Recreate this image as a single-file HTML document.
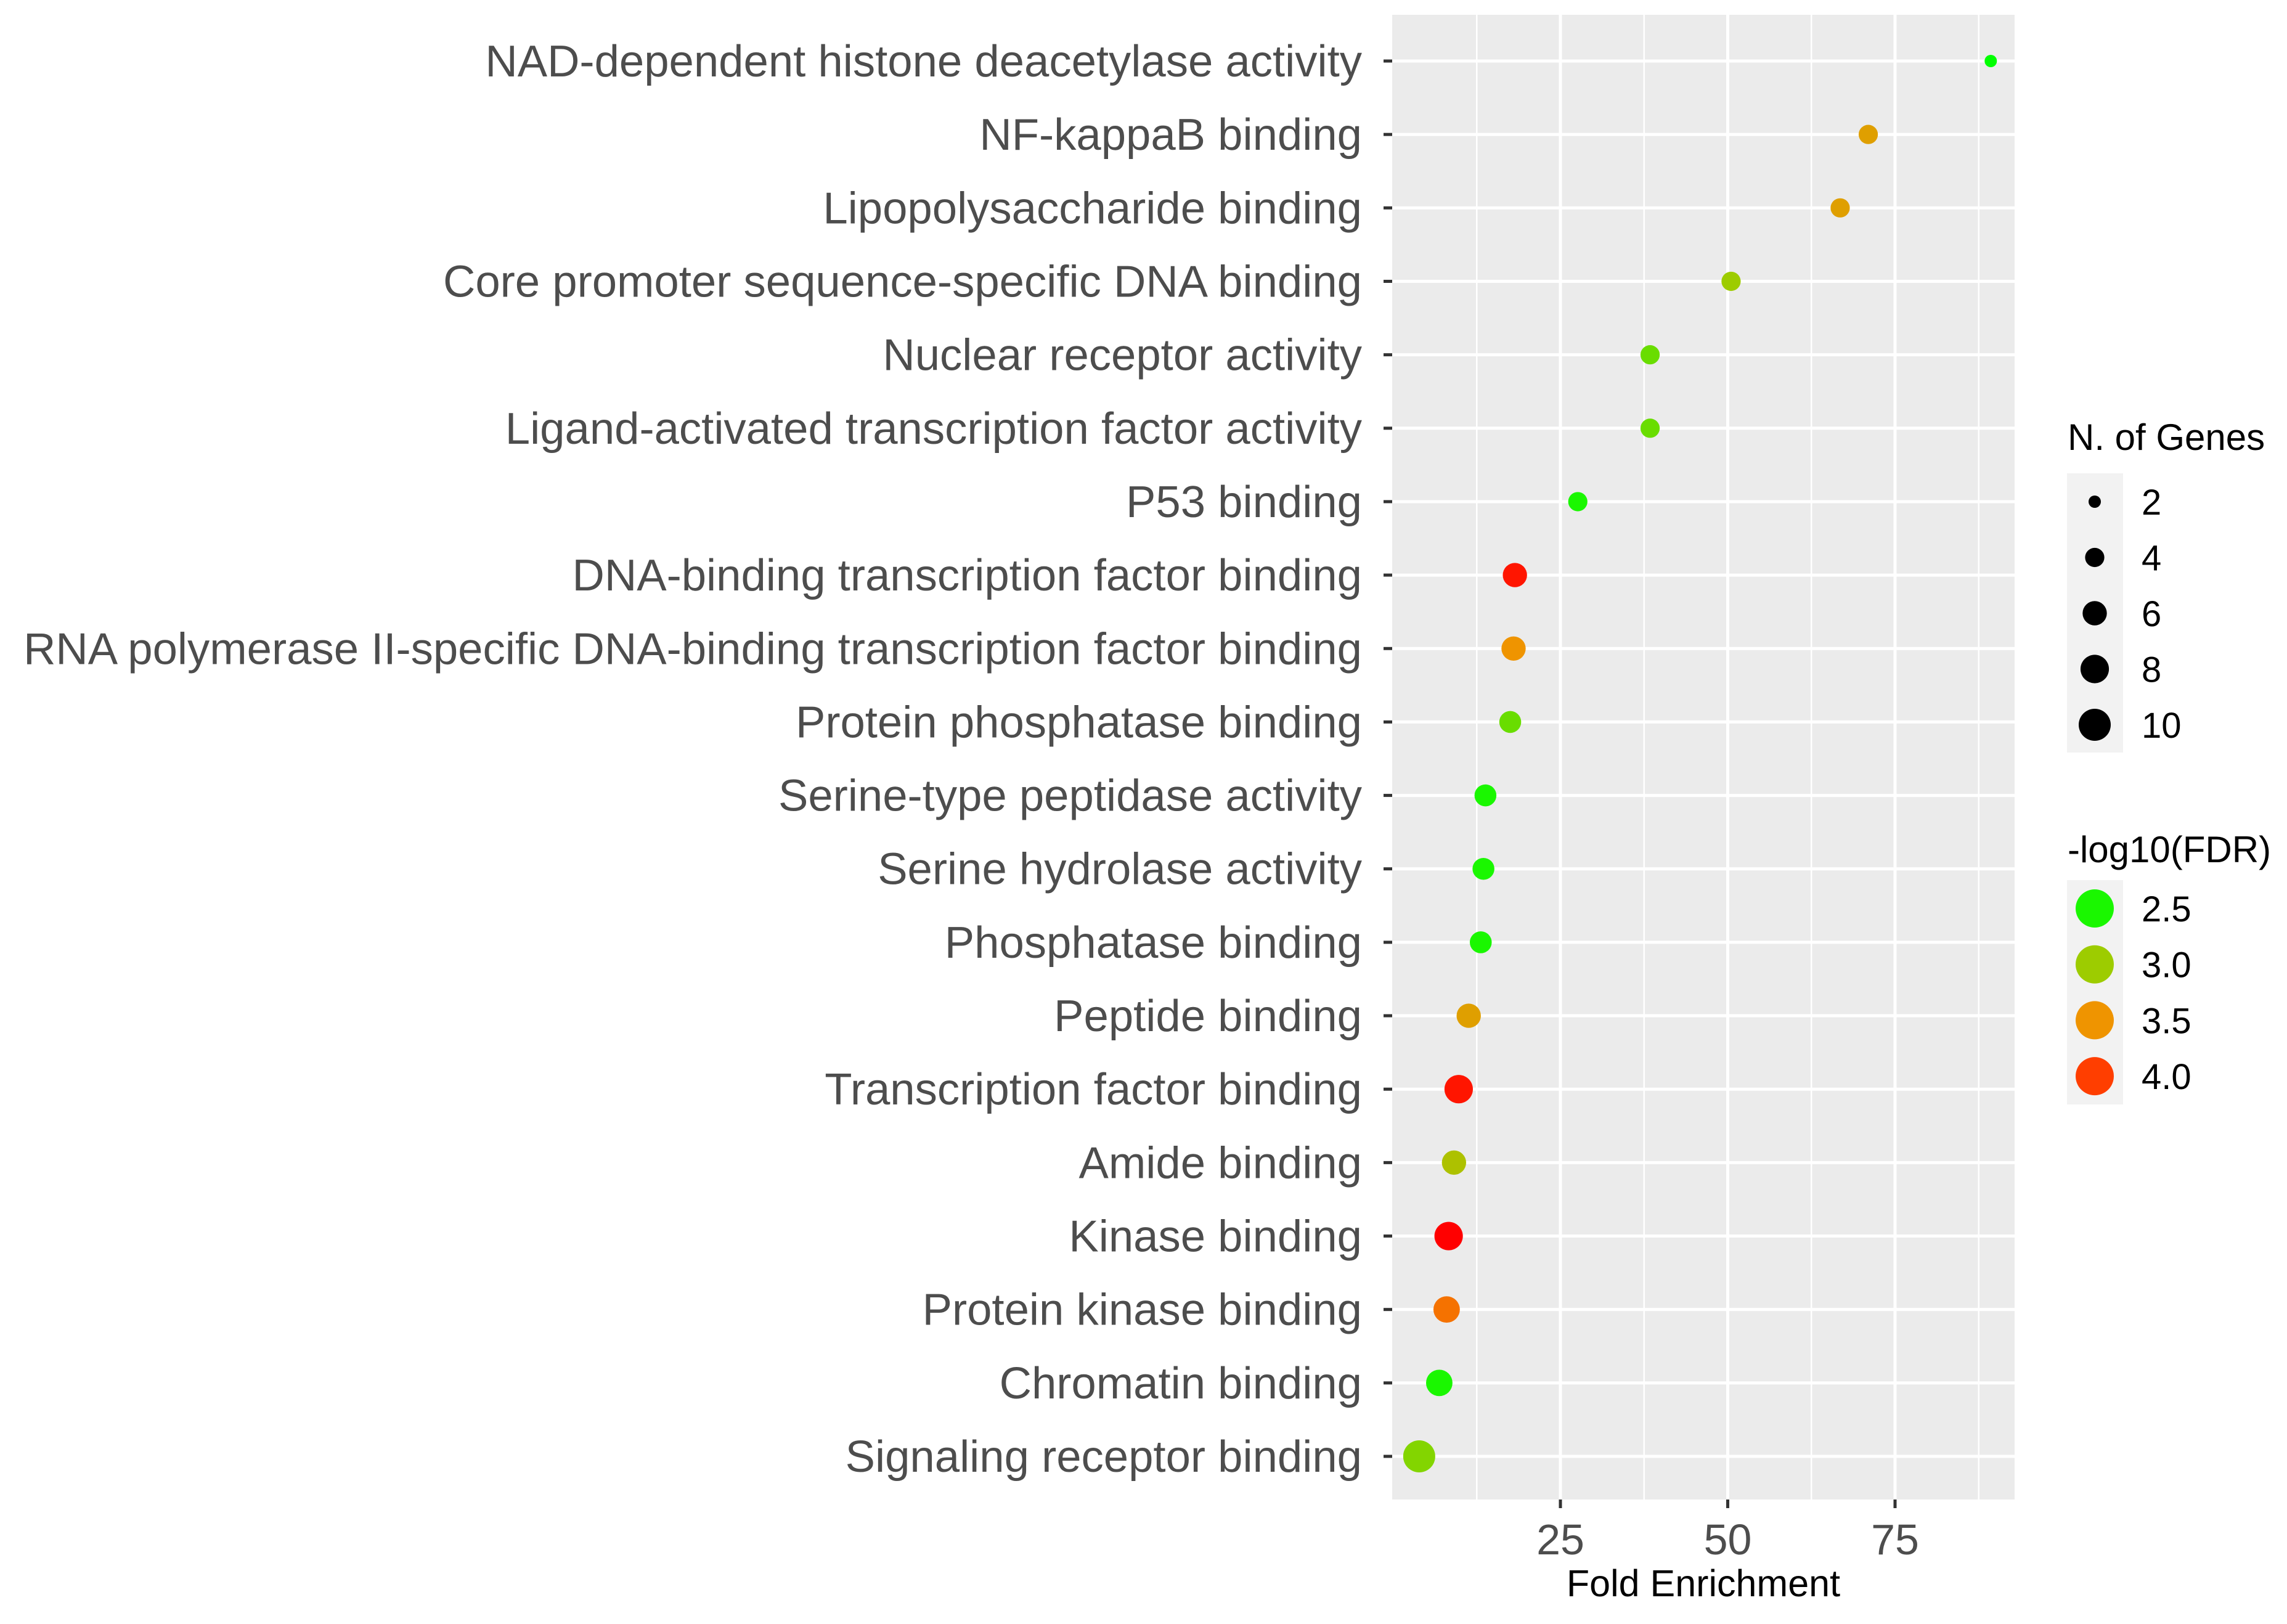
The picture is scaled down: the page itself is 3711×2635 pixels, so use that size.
<!DOCTYPE html>
<html><head><meta charset="utf-8"><style>html,body{margin:0;padding:0;background:#fff}svg{display:block}text{font-family:"Liberation Sans",sans-serif}</style></head>
<body>
<svg id="chart" width="3711" height="2635" viewBox="0 0 3711 2635" xmlns="http://www.w3.org/2000/svg">
<rect x="2259" y="24" width="1010" height="2409" fill="#ebebeb"/>
<g id="grid"></g><g id="ylab"></g><g id="xax"></g><g id="pts"></g>
<text x="2764" y="2590" font-size="61" text-anchor="middle" fill="#000">Fold Enrichment</text>
<g id="legend"></g>
</svg>
<script>
const terms=["NAD-dependent histone deacetylase activity","NF-kappaB binding","Lipopolysaccharide binding","Core promoter sequence-specific DNA binding","Nuclear receptor activity","Ligand-activated transcription factor activity","P53 binding","DNA-binding transcription factor binding","RNA polymerase II-specific DNA-binding transcription factor binding","Protein phosphatase binding","Serine-type peptidase activity","Serine hydrolase activity","Phosphatase binding","Peptide binding","Transcription factor binding","Amide binding","Kinase binding","Protein kinase binding","Chromatin binding","Signaling receptor binding"];
const fold=[89.3,71,66.8,50.5,38.4,38.4,27.6,18.2,18,17.5,13.8,13.5,13.1,11.3,9.8,9.1,8.3,8,6.9,3.9];
const genes=[2,4,4,4,4,4,4,6,6,5,5,5,5,6,8,6,8,7,7,10];
const fdr=[2.4,3.4,3.4,3.0,2.8,2.8,2.5,4.2,3.5,2.8,2.5,2.5,2.5,3.4,4.2,3.1,4.3,3.7,2.5,2.9];
const xTicks=[25,50,75];
const sizeLegend=[2,4,6,8,10];
const colorLegend=[2.5,3.0,3.5,4.0];
const NS="http://www.w3.org/2000/svg";
const X0=2259,X1=3269;
function xs(v){return 2532+(v-25)*(3075-2532)/50;}
function ys(i){return 99+i*(2363-99)/19;}
function rs(n){return Math.sqrt(72*n-44);}
const stops=[[2.4,[0,255,0]],[3.0,[157,204,0]],[3.5,[239,148,0]],[4.0,[255,62,0]],[4.3,[255,0,0]]];
function col(v){if(v<=stops[0][0])return 'rgb(0,255,0)';for(let i=1;i<stops.length;i++){if(v<=stops[i][0]){const a=stops[i-1],b=stops[i],t=(v-a[0])/(b[0]-a[0]);const c=a[1].map((q,k)=>Math.round(q+(b[1][k]-q)*t));return 'rgb('+c.join(',')+')';}}return 'rgb(255,0,0)';}
function el(t,a,p){const e=document.createElementNS(NS,t);for(const k in a)e.setAttribute(k,a[k]);p.appendChild(e);return e;}
const grid=document.getElementById('grid');
for(let v=12.5;v<93;v+=25){const g=el('line',{x1:xs(v),x2:xs(v),y1:24,y2:2433,stroke:'#fff','stroke-width':2.5},grid);

}
xTicks.forEach(v=>{const g=el('line',{x1:xs(v),x2:xs(v),y1:24,y2:2433,stroke:'#fff','stroke-width':5},grid);


const t=el('line',{x1:xs(v),x2:xs(v),y1:2433,y2:2447,stroke:'#333','stroke-width':5},document.getElementById('xax'));


const l=el('text',{x:xs(v),y:2522,'font-size':70,'text-anchor':'middle',fill:'#4d4d4d'},document.getElementById('xax'));
l.textContent=v;

});
terms.forEach((t,i)=>{const y=ys(i);
const g=el('line',{x1:X0,x2:X1,y1:y,y2:y,stroke:'#fff','stroke-width':5},grid);


const tk=el('line',{x1:2245,x2:2259,y1:y,y2:y,stroke:'#333','stroke-width':5},document.getElementById('ylab'));


const l=el('text',{x:2210,y:y+25,'font-size':72.5,'text-anchor':'end',fill:'#4d4d4d'},document.getElementById('ylab'));
l.textContent=t;


const c=el('circle',{cx:xs(fold[i]),cy:y,r:rs(genes[i]),fill:col(fdr[i])},document.getElementById('pts'));

});
const lg=document.getElementById('legend');
let t1=el('text',{x:3355,y:730,'font-size':60,fill:'#000'},lg);t1.textContent='N. of Genes';


let b1=el('rect',{x:3354,y:768,width:91,height:453,fill:'#f2f2f2'},lg);


sizeLegend.forEach((n,i)=>{const y=814+i*90.5;
const c=el('circle',{cx:3399,cy:y,r:rs(n),fill:'#000'},lg);


const l=el('text',{x:3475,y:y+21,'font-size':58,fill:'#000'},lg);l.textContent=n;

});
let t2=el('text',{x:3355,y:1399,'font-size':60,fill:'#000'},lg);t2.textContent='-log10(FDR)';


let b2=el('rect',{x:3354,y:1428,width:91,height:364,fill:'#f2f2f2'},lg);


colorLegend.forEach((v,i)=>{const y=1474+i*90.7;
const c=el('circle',{cx:3399,cy:y,r:31,fill:col(v)},lg);


const l=el('text',{x:3475,y:y+21,'font-size':58,fill:'#000'},lg);l.textContent=v.toFixed(1);

});
</script>
</body></html>
